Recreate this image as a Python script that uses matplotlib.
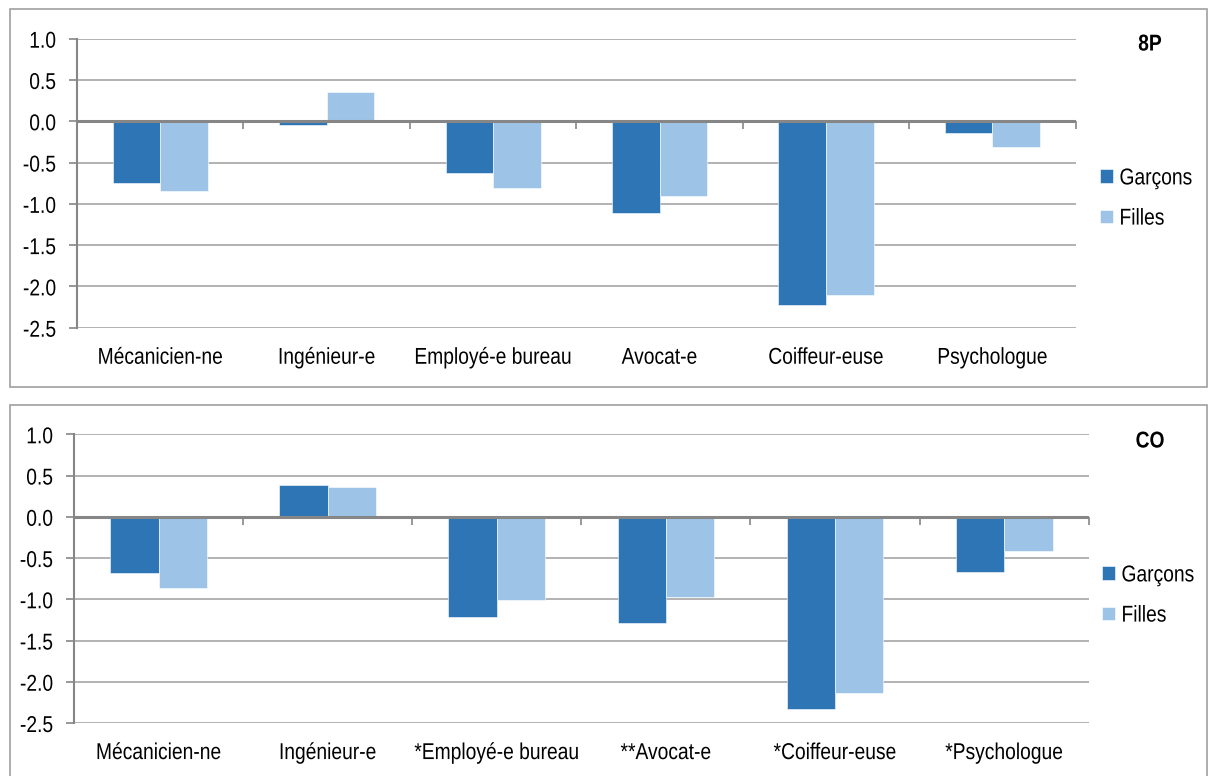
import numpy as np
from matplotlib import pyplot as plt
from matplotlib.patches import Rectangle
from matplotlib.patheffects import AbstractPathEffect
from matplotlib.transforms import Affine2D

plt.rcParams['font.family'] = ['Liberation Sans', 'DejaVu Sans']

labels_8p = ['Mécanicien-ne', 'Ingénieur-e', 'Employé-e bureau', 'Avocat-e', 'Coiffeur-euse', 'Psychologue']
labels_co = ['Mécanicien-ne', 'Ingénieur-e', '*Employé-e bureau', '**Avocat-e', '*Coiffeur-euse', '*Psychologue']

garcons_8p = [-0.75, -0.05, -0.63, -1.11, -2.23, -0.14]
filles_8p = [-0.85, 0.36, -0.81, -0.90, -2.10, -0.31]

garcons_co = [-0.68, 0.39, -1.21, -1.29, -2.33, -0.67]
filles_co = [-0.86, 0.36, -1.01, -0.97, -2.14, -0.42]

series_names = ['Garçons', 'Filles']
dark = '#2E75B6'
light = '#9DC3E6'
grid_col = '#A6A6A6'
axis_col = '#868686'
FS = 16.5


class Narrow(AbstractPathEffect):
    # squeeze the glyphs horizontally, like the narrow font of the original
    def __init__(self, sx=0.84, anchor='center'):
        super().__init__()
        self.sx = sx
        self.anchor = anchor

    def draw_path(self, renderer, gc, tpath, affine, rgbFace=None):
        pts = affine.transform(tpath.vertices)
        if len(pts) == 0:
            return
        x0, x1 = pts[:, 0].min(), pts[:, 0].max()
        a = {'left': x0, 'right': x1}.get(self.anchor, (x0 + x1) / 2)
        tr = affine + Affine2D().translate(-a, 0).scale(self.sx, 1).translate(a, 0)
        renderer.draw_path(gc, tpath, tr, rgbFace)


W, H = 1208, 776
fig = plt.figure(figsize=(W / 100, H / 100), dpi=100)

# panel frames
fig.patches.append(Rectangle((10 / W, 1 - 387 / H), (1207 - 10) / W, (387 - 9) / H,
                             transform=fig.transFigure, fill=False, edgecolor='#A0A0A0', lw=1.2))
fig.patches.append(Rectangle((10 / W, -0.05), (1207 - 10) / W, (1 - 405 / H) + 0.05,
                             transform=fig.transFigure, fill=False, edgecolor='#A0A0A0', lw=1.2))


def panel(rect, cats, g, f, title, title_xy, leg_xy):
    ax = fig.add_axes(rect)
    x = np.arange(len(cats))
    w = 0.286
    ax.bar(x - w / 2, g, w, color=dark, edgecolor='white', linewidth=0.4, label=series_names[0], zorder=3)
    ax.bar(x + w / 2, f, w, color=light, edgecolor='white', linewidth=0.4, label=series_names[1], zorder=3)
    ax.set_xlim(-0.5, len(cats) - 0.5)
    ax.set_ylim(-2.5, 1.0)
    yt = np.arange(-2.5, 1.01, 0.5)
    ax.set_yticks(yt)
    ax.set_yticklabels(['{:.1f}'.format(v) for v in yt])
    ax.yaxis.grid(True, color=grid_col, lw=1.2, zorder=0)
    ax.set_axisbelow(True)
    for s in ['top', 'right', 'bottom']:
        ax.spines[s].set_visible(False)
    ax.spines['left'].set_color(axis_col)
    ax.spines['left'].set_linewidth(1.5)
    ax.tick_params(axis='y', length=6, width=1.2, color=axis_col, labelsize=FS, pad=9)
    ax.set_xticks(x)
    ax.set_xticklabels(cats)
    ax.tick_params(axis='x', length=0, labelsize=FS, pad=13)
    for t in ax.get_yticklabels():
        t.set_path_effects([Narrow(anchor='right')])
    for t in ax.get_xticklabels():
        t.set_path_effects([Narrow(anchor='center')])
    ax.axhline(0, color=axis_col, lw=2.2, zorder=4)
    sec = ax.secondary_xaxis(0, transform=ax.transData)
    sec.set_xticks(np.arange(0.5, len(cats) - 0.4, 1.0))
    sec.set_xticklabels([])
    sec.tick_params(length=6, width=1.2, color=axis_col, direction='out')
    for s in sec.spines.values():
        s.set_visible(False)
    fig.text(title_xy[0] / W, 1 - title_xy[1] / H, title, fontsize=FS, fontweight='bold',
             ha='center', va='center', path_effects=[Narrow(anchor='center')])
    leg = fig.legend(handles=ax.containers, labels=series_names, loc='center left',
                     bbox_to_anchor=(leg_xy[0] / W, 1 - leg_xy[1] / H), frameon=False,
                     fontsize=FS, handlelength=0.55, handleheight=0.55, handletextpad=0.3,
                     labelspacing=0.75, borderpad=0, borderaxespad=0)
    for t in leg.get_texts():
        t.set_path_effects([Narrow(anchor='left')])
    return ax


panel([77 / W, 1 - 327.7 / H, (1075.7 - 77) / W, (327.7 - 38.7) / H],
      labels_8p, garcons_8p, filles_8p, '8P', (1150, 44), (1100, 198))
panel([74 / W, 1 - 723 / H, (1088.7 - 74) / W, (723 - 434.3) / H],
      labels_co, garcons_co, filles_co, 'CO', (1150, 441), (1102, 595))

plt.savefig('out.png', dpi=100)
